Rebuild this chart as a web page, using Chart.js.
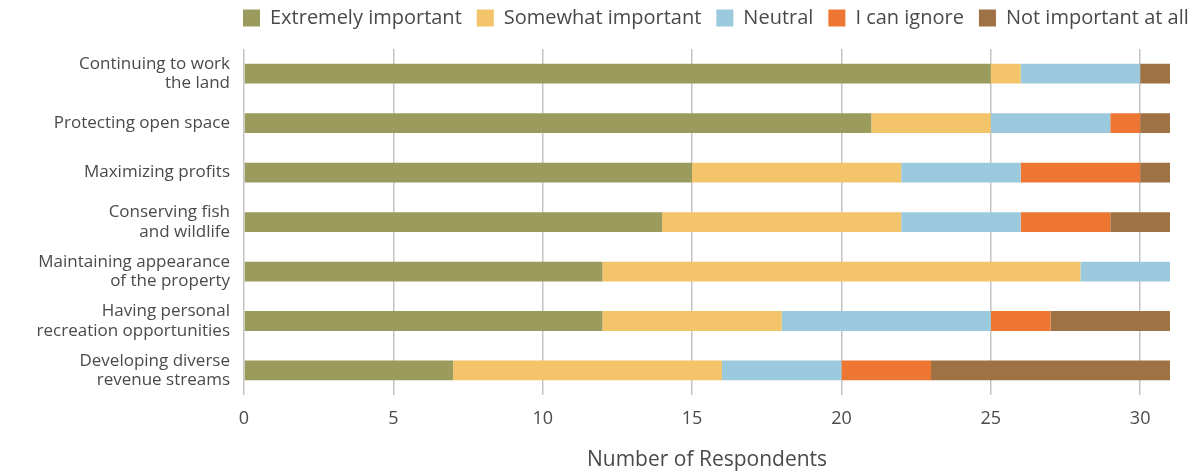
<!DOCTYPE html>
<html>
<head>
<meta charset="utf-8">
<script src="https://cdn.jsdelivr.net/npm/chart.js@4"></script>
<style>
  html, body { margin: 0; padding: 0; background: #fff; }
  #wrap { width: 1200px; height: 472px; }
</style>
</head>
<body>
<div id="wrap"><canvas id="myChart" width="1200" height="472"></canvas></div>
<script>
const categories = [
    ["Continuing to work", "the land"],
    "Protecting open space",
    "Maximizing profits",
    ["Conserving fish", "and wildlife"],
    ["Maintaining appearance", "of the property"],
    ["Having personal", "recreation opportunities"],
    ["Developing diverse", "revenue streams"]
];
const extremelyImportant = [25, 21, 15, 14, 12, 12, 7];
const somewhatImportant = [1, 4, 7, 8, 16, 6, 9];
const neutral = [4, 4, 4, 4, 3, 7, 4];
const canIgnore = [0, 1, 4, 3, 0, 2, 3];
const notImportant = [1, 1, 1, 2, 0, 4, 8];
const xTicks = [0, 5, 10, 15, 20, 25, 30];

const fontFamily = "'Open Sans', sans-serif";
const textColor = "#4a4a4a";
const legendPad = 15;

// nudge the legend so it lines up like the original
const legendShift = {
    id: "legendShift",
    afterLayout(chart) {
        const lg = chart.legend;
        const dx = 243 - legendPad;
        lg.left += dx;
        lg.right += dx;
        lg.top -= 11;
        lg.bottom -= 11;
    }
};

const data = {
    labels: categories,
    datasets: [
        { label: "Extremely important", backgroundColor: "#9b9b5e", data: extremelyImportant },
        { label: "Somewhat important", backgroundColor: "#f4c46b", data: somewhatImportant },
        { label: "Neutral", backgroundColor: "#9bc9dd", data: neutral },
        { label: "I can ignore", backgroundColor: "#ed7732", data: canIgnore },
        { label: "Not important at all", backgroundColor: "#9e7244", data: notImportant }
    ]
};

const config = {
    type: "bar",
    data,
    plugins: [legendShift],
    options: {
        indexAxis: "y",
        responsive: false,
        animation: false,
        layout: { padding: { left: 0, right: 30, top: 4, bottom: -1 } },
        datasets: {
            bar: { categoryPercentage: 0.8, barPercentage: 0.5, borderWidth: 0 }
        },
        plugins: {
            legend: {
                position: "top",
                align: "start",
                labels: {
                    boxWidth: 17,
                    boxHeight: 17,
                    padding: legendPad,
                    color: textColor,
                    font: { family: fontFamily, size: 20 }
                }
            },
            tooltip: { enabled: false }
        },
        scales: {
            x: {
                stacked: true,
                min: 0,
                max: 31,
                afterBuildTicks(scale) {
                    scale.ticks = xTicks.map(v => ({ value: v }));
                },
                grid: {
                    color: "#c4c4c4",
                    lineWidth: 1.5,
                    drawTicks: false
                },
                border: { display: false },
                ticks: {
                    color: textColor,
                    padding: 13,
                    font: { family: fontFamily, size: 18 }
                },
                title: {
                    display: true,
                    text: "Number of Respondents",
                    color: textColor,
                    padding: { top: 5, bottom: 0 },
                    font: { family: fontFamily, size: 21 }
                }
            },
            y: {
                stacked: true,
                grid: { display: false, drawTicks: false },
                border: { display: false },
                afterFit(scale) {
                    scale.width = 244;
                },
                ticks: {
                    color: textColor,
                    padding: 14,
                    font: { family: fontFamily, size: 17, lineHeight: 1.15 }
                }
            }
        }
    }
};

var myChart = new Chart(document.getElementById("myChart"), config);
</script>
</body>
</html>
